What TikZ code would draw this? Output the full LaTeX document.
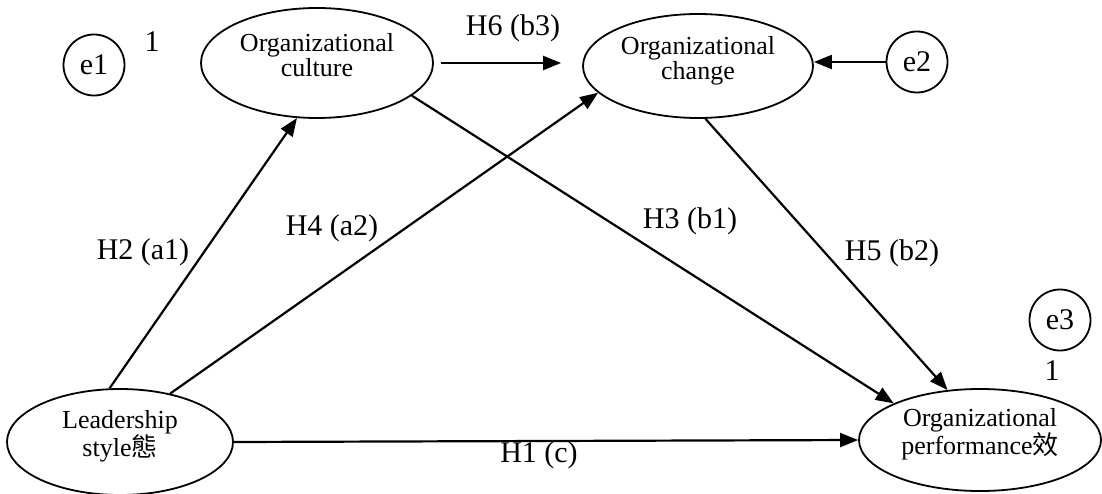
\documentclass[tikz,border=0pt]{standalone}
\usepackage{fontspec}
\setmainfont{Liberation Serif}
\newfontfamily\cjk{Noto Sans CJK TC}
\usetikzlibrary{shapes.geometric,arrows.meta}
\newcommand{\twolines}[2]{\raisebox{5pt}[\height][\depth]{\begin{tabular}{@{}c@{}}#1\\#2\end{tabular}}}
\begin{document}
\begin{tikzpicture}[x=1pt,y=-1pt,
  ell/.style={draw,ellipse,line width=1.8pt,inner sep=0pt,
    font=\fontsize{26}{23}\selectfont},
  errc/.style={draw,circle,line width=1.8pt,inner sep=0pt,minimum size=61pt,
    font=\fontsize{30}{30}\selectfont},
  lbl/.style={inner sep=0pt,font=\fontsize{30}{30}\selectfont},
  arr/.style={line width=2.2pt,-{Triangle[length=18pt,width=14pt]}}]
\useasboundingbox (0,0) rectangle (1102,494);
% nodes
\node[ell,minimum width=232pt,minimum height=110pt] (cult) at (317,63) {\twolines{Organizational}{culture}};
\node[ell,minimum width=230pt,minimum height=104pt] (chg) at (698,66) {\twolines{Organizational}{change}};
\node[ell,minimum width=226pt,minimum height=106pt] (lead) at (120,442) {\twolines{Leadership}{style{\cjk 態}}};
\node[ell,minimum width=242pt,minimum height=102pt] (perf) at (980,440) {\twolines{Organizational}{performance{\cjk 效}}};
\node[errc] (e1) at (94,65) {e1};
\node[errc] (e2) at (917,62) {e2};
\node[errc] (e3) at (1060,320) {e3};
\node[lbl] (one1) at (152,42) {1};
\node[lbl] (one3) at (1052,371) {1};
% labels
\node[lbl] (h6) at (513,28) {H6 (b3)};
\node[lbl] (h2) at (143,252) {H2 (a1)};
\node[lbl] (h4) at (332,228) {H4 (a2)};
\node[lbl] (h3) at (690,221) {H3 (b1)};
\node[lbl] (h5) at (892,253) {H5 (b2)};
\node[lbl] (h1) at (539,455) {H1 (c)};
% connectors
\draw[arr] ([xshift=7pt]cult.east) -- ([xshift=-21pt]cult.east -| chg.west);
\draw[arr] (e2.west) -- (e2.west -| chg.east);
\draw[arr] (lead.101) -- (cult.250);
\draw[arr] (lead.44) -- (chg.195);
\draw[arr] (cult.341) -- (perf.157);
\draw[arr] (chg.278) -- (perf.123);
\draw[arr] (lead.east) -- (perf.west);
\end{tikzpicture}
\end{document}
